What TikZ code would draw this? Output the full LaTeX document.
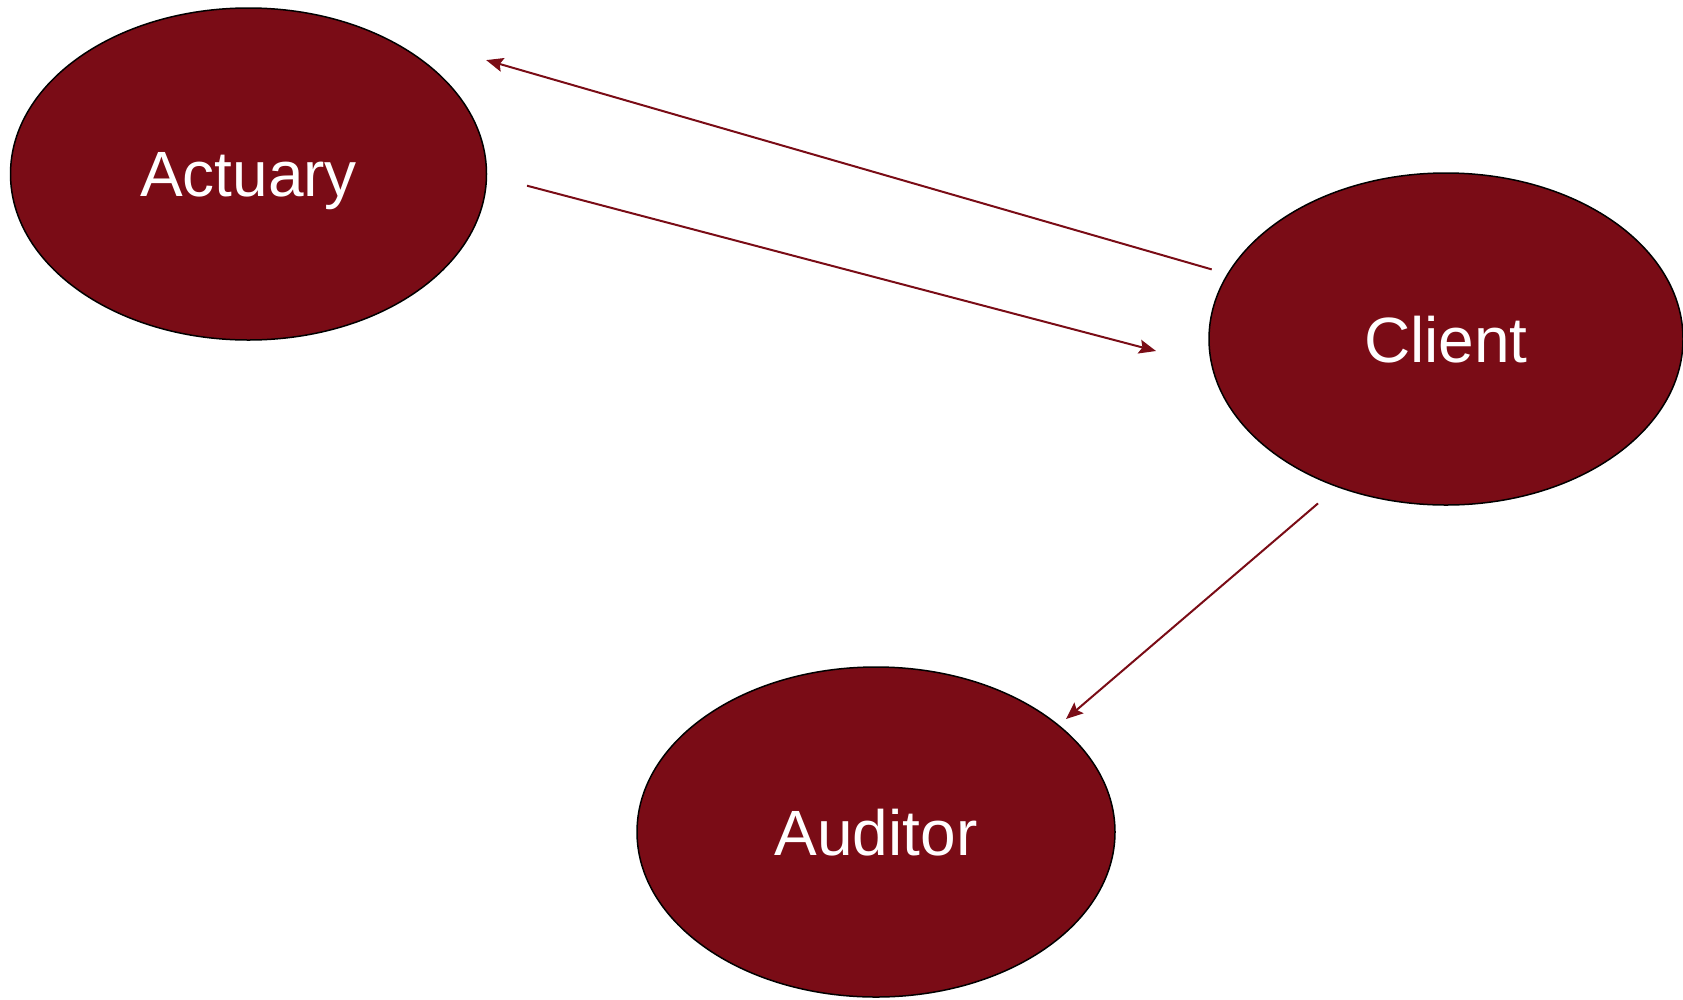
\documentclass[tikz,border=0pt]{standalone}
\usepackage{fontspec}
\setmainfont{Liberation Sans}
\usetikzlibrary{shapes.geometric,arrows.meta}
\definecolor{maroon}{RGB}{122,12,22}
\tikzset{
  party/.style={ellipse, draw=black, line width=1.5pt, fill=maroon,
    minimum width=476pt, minimum height=332pt, inner sep=0pt,
    text depth=0pt, text=white, font=\fontsize{64}{76}\selectfont},
  flow/.style={draw=maroon, line width=2pt,
    -{Stealth[length=17pt,width=14pt,inset=3pt]}}
}
\begin{document}
\begin{tikzpicture}[x=1pt,y=-1pt]
  \useasboundingbox (0,0) rectangle (1683,999);
  \node[party] (actuary) at (248.5,174) {Actuary};
  \node[party, minimum width=474pt] (client) at (1446,339) {Client};
  \node[party, minimum width=478pt, minimum height=330pt] (auditor) at (876,832) {Auditor};

  % connector end points
  \coordinate (c2a-s) at (1211.7,269.4);
  \coordinate (c2a-e) at (486.2,60.1);
  \coordinate (a2c-s) at (527,185.7);
  \coordinate (a2c-e) at (1156,351);
  \coordinate (c2d-s) at (1318,503.4);
  \coordinate (c2d-e) at (1066,719);

  \draw[flow] (c2a-s) -- (c2a-e);
  \draw[flow] (a2c-s) -- (a2c-e);
  \draw[flow] (c2d-s) -- (c2d-e);
\end{tikzpicture}
\end{document}
